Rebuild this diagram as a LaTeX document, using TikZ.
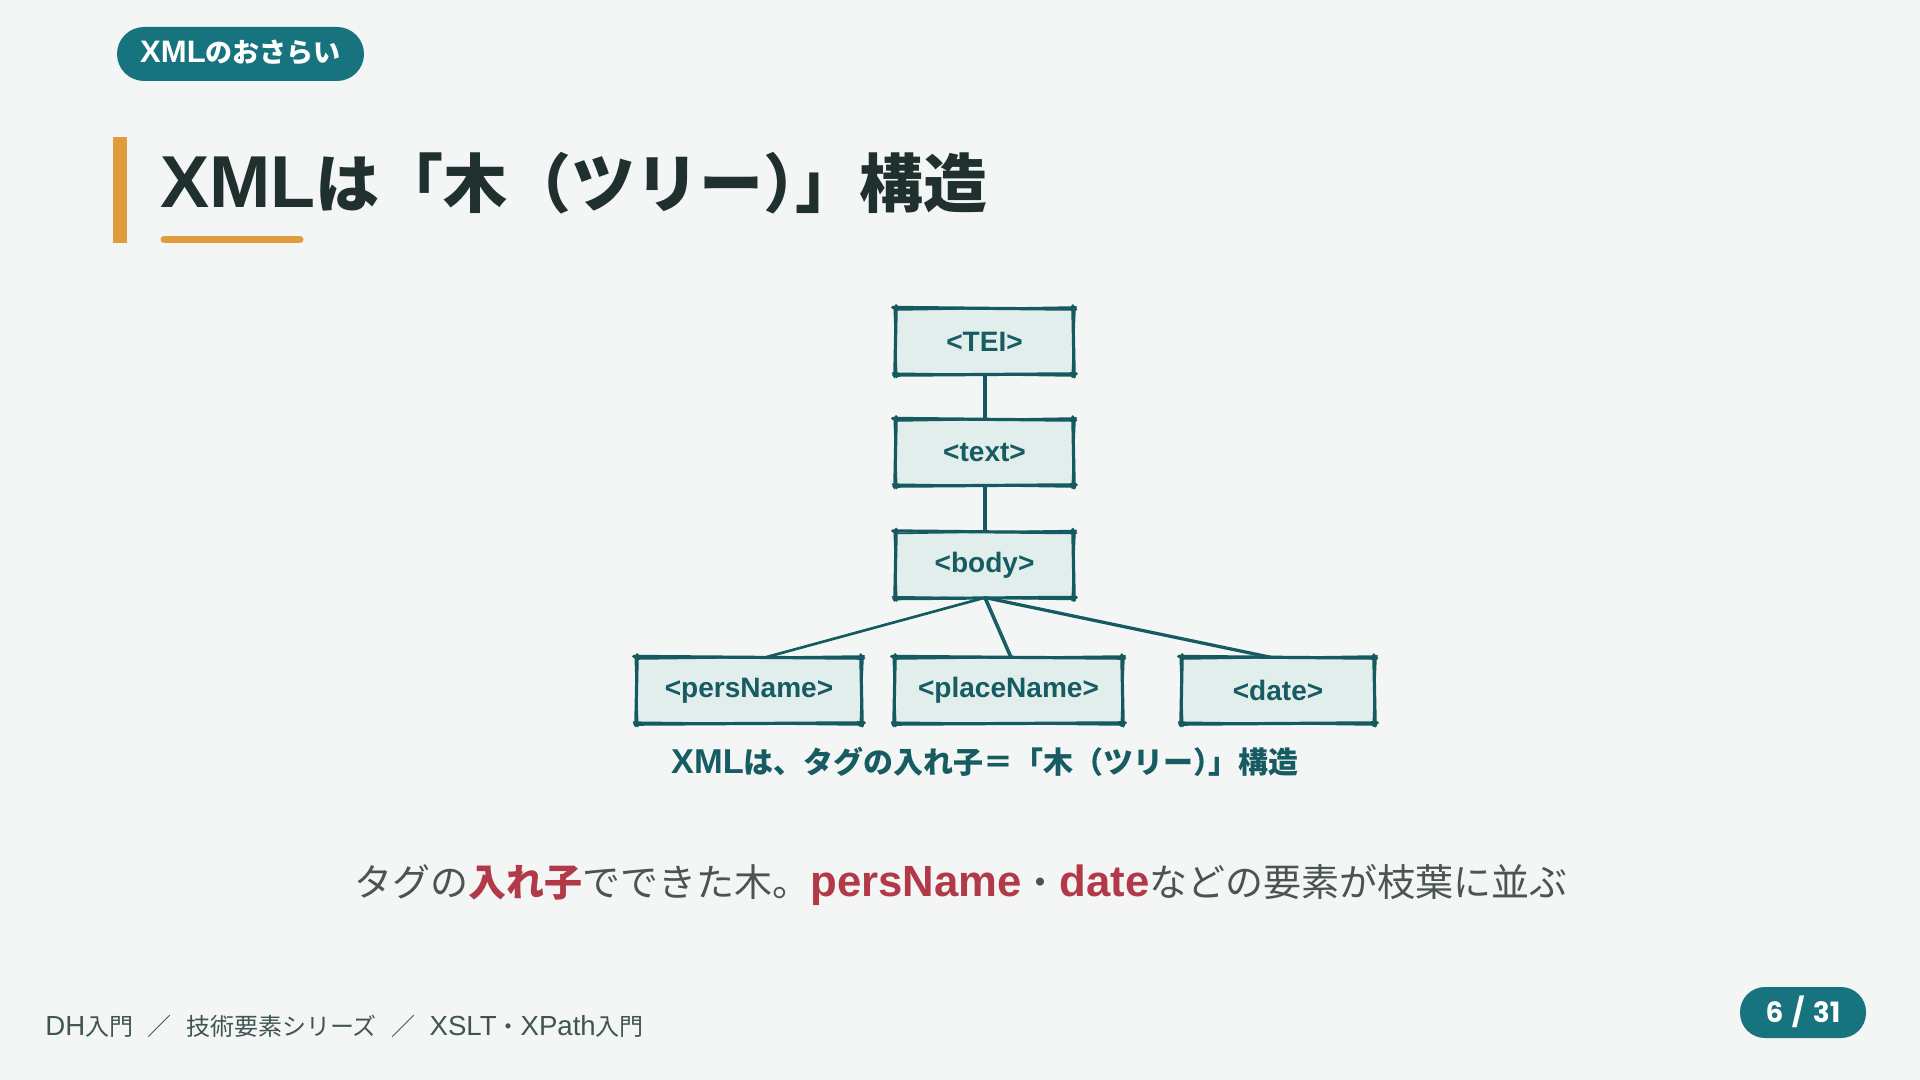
\documentclass[tikz,border=0pt]{standalone}
\usepackage{fontspec}
\setmainfont{Noto Sans CJK JP}
\newfontfamily\lat{Liberation Sans}[Scale=1.15]
\newfontfamily\pop{Poppins}
\definecolor{bgc}{HTML}{F4F6F5}
\definecolor{badge}{HTML}{17737D}
\definecolor{titlec}{HTML}{1F302E}
\definecolor{orangec}{HTML}{E09B3C}
\definecolor{boxfill}{HTML}{E2EEEC}
\definecolor{boxline}{HTML}{145A60}
\definecolor{capc}{HTML}{165C62}
\definecolor{redc}{HTML}{B23A48}
\definecolor{bodyc}{HTML}{4A5553}
\definecolor{footc}{HTML}{3F5553}
\tikzset{
  sketchbox/.style={rectangle, fill=boxfill, draw=none,
    minimum height=32.5pt, inner sep=0pt, font=\lat\fontsize{12.2}{14}\selectfont\bfseries, text=capc},
  rs/.style={draw=boxline, line width=1.6pt, line cap=round},
  rsthin/.style={draw=boxline, line width=0.8pt, line cap=round},
  sketchline/.style={draw=boxline, line width=1.2pt,
    postaction={draw=boxline, line width=0.6pt, transform canvas={xshift=0.7pt,yshift=0.6pt}}},
}
\newcommand{\roughbox}[1]{%
  \draw[rs] ([shift={(-1.5pt,0.6pt)}]#1.north west) -- ([shift={(1.2pt,-0.3pt)}]#1.north east);
  \draw[rsthin] ([shift={(-0.5pt,-0.7pt)}]#1.north west) -- ([shift={(1.5pt,0.8pt)}]#1.north east);
  \draw[rs] ([shift={(-1pt,-0.4pt)}]#1.south west) -- ([shift={(1.5pt,0.3pt)}]#1.south east);
  \draw[rsthin] ([shift={(-1.6pt,0.6pt)}]#1.south west) -- ([shift={(0.8pt,-0.8pt)}]#1.south east);
  \draw[rs] ([shift={(0.3pt,1.5pt)}]#1.north west) -- ([shift={(-0.4pt,-1.2pt)}]#1.south west);
  \draw[rsthin] ([shift={(-0.7pt,0.8pt)}]#1.north west) -- ([shift={(0.6pt,-1.6pt)}]#1.south west);
  \draw[rs] ([shift={(-0.3pt,1.4pt)}]#1.north east) -- ([shift={(0.4pt,-1.3pt)}]#1.south east);
  \draw[rsthin] ([shift={(0.8pt,0.6pt)}]#1.north east) -- ([shift={(-0.6pt,-1.5pt)}]#1.south east);
}
\begin{document}
\begin{tikzpicture}[x=0.5pt,y=-0.5pt]
\useasboundingbox (0,0) rectangle (1920,1080);
\fill[bgc] (0,0) rectangle (1920,1080);
% top badge
\fill[badge, rounded corners=13.5pt] (117,27) rectangle (364,81);
\node[anchor=base, inner sep=0pt, text=white, font=\fontsize{13.5}{16}\selectfont\bfseries] (badgetxt) at (240.5,63) {{\lat XML}のおさらい};
% title
\fill[orangec] (113,137) rectangle (127,243);
\node[anchor=base west, inner sep=0pt, text=titlec, font=\fontsize{32}{36}\selectfont\bfseries] (title) at (160,208) {{\lat XML}は「木（ツリー）\kern-0.5em」構造};
\draw[orangec, line width=3.5pt, line cap=round] (164,239.5) -- (300,239.5);
% tree
\node[sketchbox, minimum width=88.5pt] (tei) at (984.5,341.5) {<TEI>};
\node[sketchbox, minimum width=88.5pt] (txt) at (984.5,452.5) {<text>};
\node[sketchbox, minimum width=88.5pt] (body) at (984.5,565) {<body>};
\node[sketchbox, minimum width=112pt] (pers) at (749,690.5) {<persName>};
\node[sketchbox, minimum width=113.5pt] (place) at (1008.5,690.5) {<placeName>};
\node[sketchbox, minimum width=96pt] (date) at (1278,690.5) {<date>};
\roughbox{tei}\roughbox{txt}\roughbox{body}\roughbox{pers}\roughbox{place}\roughbox{date}
\draw[sketchline] (tei.south) -- (txt.north);
\draw[sketchline] (txt.south) -- (body.north);
\draw[sketchline] (body.south) -- ([xshift=8pt]pers.north);
\draw[sketchline] (body.south) -- ([xshift=1pt]place.north);
\draw[sketchline] (body.south) -- ([xshift=-4pt]date.north);
\node[anchor=base, inner sep=0pt, text=capc, font=\fontsize{15}{17}\selectfont\bfseries] (cap) at (985,773) {{\lat XML}は、タグの入れ子＝「木（ツリー）\kern-0.5em」構造};
% sentence
\node[anchor=base, inner sep=0pt, text=bodyc, font=\fontsize{19}{22}\selectfont] (sent) at (961,896)
  {タグの{\bfseries\color{redc}入れ子}でできた木。{\lat\bfseries\color{redc}persName}・{\lat\bfseries\color{redc}date}などの要素が枝葉に並ぶ};
% footer
\node[anchor=base west, inner sep=0pt, text=footc, font=\fontsize{12}{14}\selectfont] (foot) at (45,1035) {{\lat DH}入門\hspace{0.6em}／\hspace{0.6em}技術要素シリーズ\hspace{0.6em}／\hspace{0.6em}{\lat XSLT}・{\lat XPath}入門};
\fill[badge, rounded corners=12.5pt] (1740,987) rectangle (1866,1038);
\node[anchor=base, inner sep=0pt, text=white, font=\pop\fontsize{14}{16}\selectfont\bfseries] (page) at (1803,1022) {6\hspace{0.3em}/\hspace{0.3em}31};
\end{tikzpicture}
\end{document}
